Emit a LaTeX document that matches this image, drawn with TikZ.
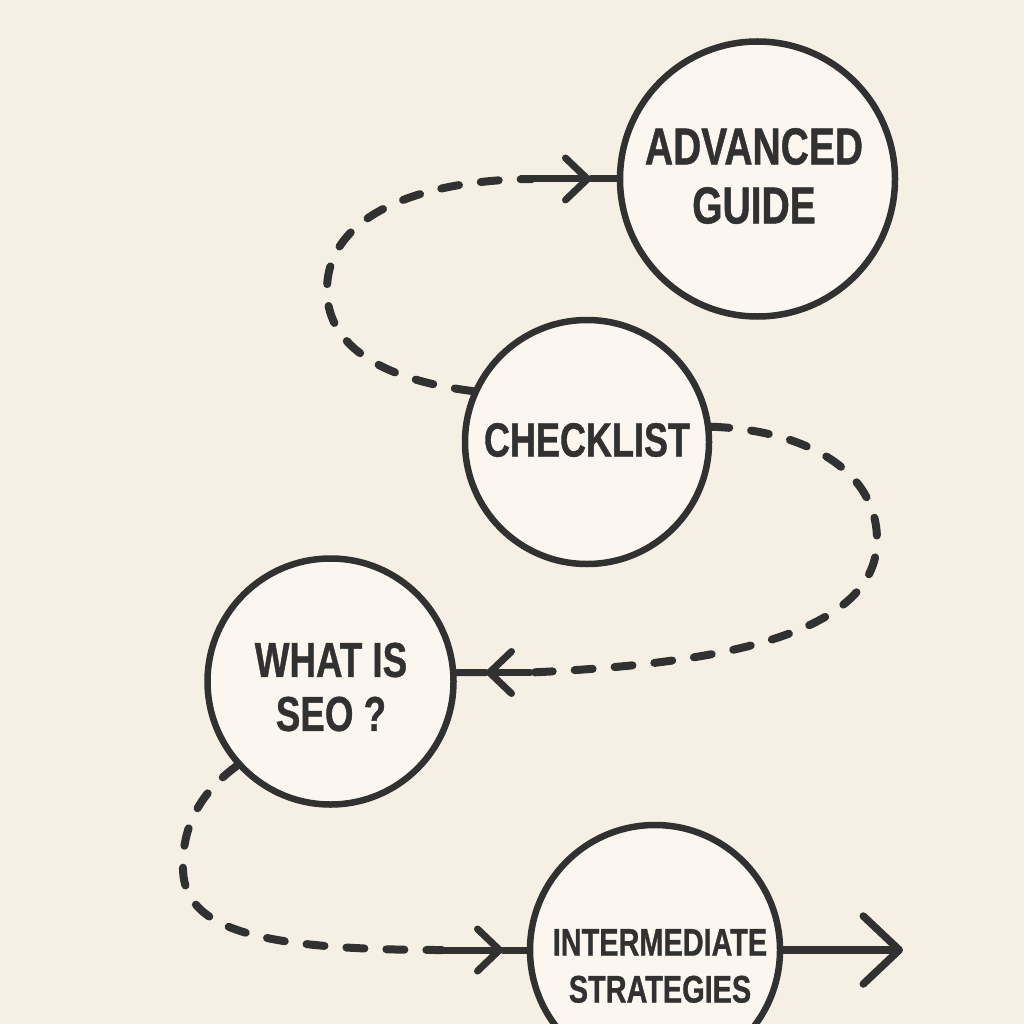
\documentclass[tikz,border=0pt]{standalone}
\usepackage{fontspec}
\setmainfont{Liberation Sans}[FakeStretch=0.75,BoldFeatures={FakeBold=0.8}]
\usetikzlibrary{arrows.meta}
\definecolor{bgc}{HTML}{F6F0E4}
\definecolor{fillc}{HTML}{FBF7F0}
\definecolor{ink}{HTML}{313131}
\begin{document}
\begin{tikzpicture}[x=1pt,y=-1pt,
  bubble/.style={circle,draw=ink,fill=fillc,line width=6.5pt,inner sep=0pt},
  txt/.style={text=ink,align=center,inner sep=0pt},
  dashline/.style={draw=ink,line width=8pt,line cap=round,dash pattern=on 18pt off 22pt},
  solidline/.style={draw=ink,line width=7pt,line cap=round},
  barb/.style={-{Straight Barb[length=22pt,width=42pt,round]}}
]
\fill[bgc] (0,0) rectangle (1024,1024);
\useasboundingbox (0,0) rectangle (1024,1024);

\node[bubble,minimum size=275pt] (adv) at (757.5,179) {};
\node[bubble,minimum size=244pt] (chk) at (587,442) {};
\node[bubble,minimum size=246pt] (seo) at (330.5,681.5) {};
\node[bubble,minimum size=250pt] (int) at (655,950) {};

\node[txt,font=\bfseries\fontsize{52}{59}\selectfont] (advtxt) at (754,176) {ADVANCED\\GUIDE};
\node[txt,font=\bfseries\fontsize{48}{56}\selectfont] (chktxt) at (587,440) {CHECKLIST};
\node[txt,font=\bfseries\fontsize{49}{54}\selectfont] (seotxt) at (331,687) {WHAT IS\\SEO ?};
\node[txt,font=\bfseries\fontsize{38.5}{47}\selectfont] (inttxt) at (660,966) {INTERMEDIATE\\STRATEGIES};

% checklist -> advanced guide
\coordinate (c1) at (532,179);
\coordinate (t1) at (591,179);
\draw[dashline] (chk.156) .. controls (400,382) and (327,355) .. (327,290)
  .. controls (327,215) and (420,180) .. (c1);
\draw[solidline,barb] (c1) -- (t1);
\draw[solidline] (t1) -- (adv.west);

% checklist -> what is seo
\coordinate (c2) at (530,672.5);
\coordinate (t2) at (486,672.5);
\draw[dashline] (chk.7) .. controls (805,430) and (877,470) .. (877,540)
  .. controls (877,640) and (700,665) .. (c2);
\draw[solidline,barb] (c2) -- (t2);
\draw[solidline] (t2) -- (seo.4);

% what is seo -> intermediate
\coordinate (c3) at (442,950);
\coordinate (t3) at (503,950);
\draw[dashline] (seo.222) .. controls (190,800) and (182,840) .. (183,870)
  .. controls (185,930) and (260,950) .. (c3);
\draw[solidline,barb] (c3) -- (t3);
\draw[solidline] (t3) -- (int.west);

% intermediate -> out
\coordinate (t4) at (903,950);
\draw[solidline,line width=7.5pt,-{Straight Barb[length=36pt,width=68pt,round]}] (int.east) -- (t4);
\end{tikzpicture}
\end{document}
